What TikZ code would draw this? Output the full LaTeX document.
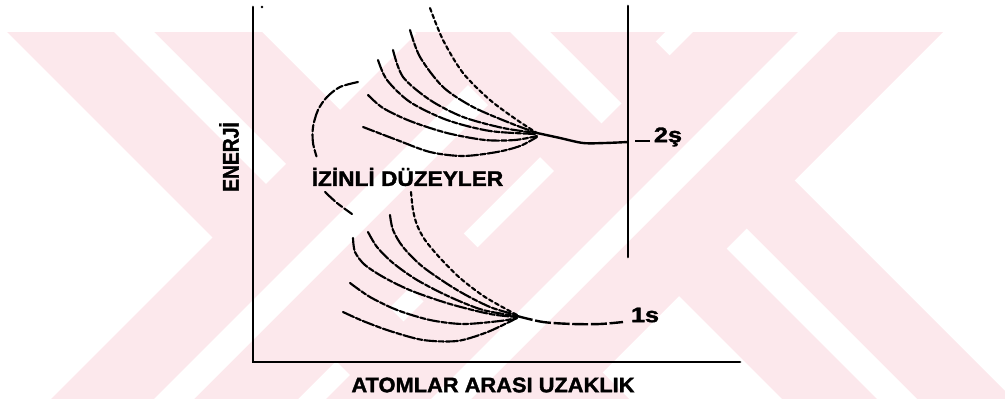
\documentclass[tikz,border=0pt]{standalone}
\usepackage{fontspec}
\setmainfont{Liberation Sans}
\newfontfamily\heavy[FakeBold=1.6]{Liberation Sans Bold}
\definecolor{wm}{RGB}{252,232,236}
\tikzset{
  axisline/.style={line width=2pt, line cap=round},
  crv/.style={line width=1.6pt, line cap=round, dash pattern=on 9pt off 1.6pt on 4pt off 1.6pt},
  dotcrv/.style={line width=1.6pt, line cap=round, dash pattern=on 3pt off 2.2pt},
  brk/.style={line width=1.6pt, line cap=round, dash pattern=on 10pt off 2pt on 5pt off 2pt},
  lbl/.style={font=\heavy\fontsize{15.75}{18}\selectfont, inner sep=0pt},
  wmfill/.style={fill=wm},
  wmgap/.style={fill=white}
}
\begin{document}
\begin{tikzpicture}[x=0.75pt,y=-0.75pt]
\useasboundingbox (0,0) rectangle (1005,399);
% watermark
\begin{scope}
\clip (0,33) rectangle (1005,399);
% left X
\path[wmfill] (-25,0) -- (230,0) -- (650,420) -- (395,420) -- cycle;
\path[wmgap] (82,0) -- (122,0) -- (542,420) -- (502,420) -- cycle;
\path[wmfill] (450,0) -- (697,0) -- (277,420) -- (30,420) -- cycle;
\path[wmgap] (553,0) -- (593,0) -- (173,420) -- (133,420) -- cycle;
% right X
\path[wmfill] (383,0) -- (614,0) -- (1034,420) -- (803,420) -- cycle;
\path[wmgap] (478,0) -- (518,0) -- (938,420) -- (898,420) -- cycle;
\path[wmfill] (725,0) -- (975,0) -- (555,420) -- (305,420) -- cycle;
\path[wmgap] (830,0) -- (870,0) -- (450,420) -- (410,420) -- cycle;
\end{scope}
% axes
\coordinate (ytop) at (253,7);
\coordinate (orig) at (253,362);
\coordinate (xend) at (740,362);
\coordinate (rtop) at (628,6);
\coordinate (rbot) at (628,257);
\draw[axisline] (ytop) -- (orig) -- (xend);
\draw[axisline] (rtop) -- (rbot);
\fill (262,7) circle (1.4);
% upper bundle
\coordinate (uc) at (537,133);
\draw[dotcrv] plot[smooth] coordinates {(430,8) (443,40) (463,73) (490,100) (517,120) (537,133)};
\draw[crv] plot[smooth] coordinates {(410,30) (420,57) (443,87) (473,107) (510,123) (537,133)};
\draw[crv] plot[smooth] coordinates {(393,50) (403,77) (430,100) (463,117) (503,128) (537,133)};
\draw[crv] plot[smooth] coordinates {(378,60) (387,80) (410,102) (447,120) (490,131) (537,134)};
\draw[crv] plot[smooth] coordinates {(368,95) (383,108) (410,121) (447,133) (485,140) (515,140) (537,136)};
\draw[crv] plot[smooth] coordinates {(363,127) (397,140) (430,152) (463,156) (497,152) (520,146) (537,137)};
\draw[line width=1.8pt] plot[smooth] coordinates {(537,133) (560,138) (583,143) (605,143) (628,142)};
\coordinate (d2a) at (635,141);
\coordinate (d2b) at (650,141);
\draw[line width=1.4pt] (d2a) -- (d2b);
\node[lbl] (l2s) at (668,137) {\scalebox{1.2}[1]{2ş}};
% bracket
\draw[brk] plot[smooth] coordinates {(358,82) (340,87) (327,97) (318,110) (313,127) (313,143) (317,158)};
\draw[brk] plot[smooth] coordinates {(325,192) (337,203) (352,214)};
\node[lbl] (izn) at (407.5,177) {\scalebox{1.08}[1]{İZİNLİ DÜZEYLER}};
% lower bundle
\draw[dotcrv] plot[smooth] coordinates {(411,192) (413,210) (417,225) (425,240) (440,258) (460,278) (485,297) (517,315)};
\draw[crv] plot[smooth] coordinates {(390,215) (393,230) (403,247) (423,267) (457,290) (490,307) (517,315)};
\draw[crv] plot[smooth] coordinates {(368,232) (377,247) (393,263) (417,280) (450,297) (483,310) (517,316)};
\draw[crv] plot[smooth] coordinates {(353,238) (355,252) (365,265) (385,278) (412,291) (450,304) (490,314) (517,317)};
\draw[crv] plot[smooth] coordinates {(350,283) (370,297) (397,310) (430,320) (463,324) (500,321) (517,318)};
\draw[crv] plot[smooth] coordinates {(343,312) (363,321) (390,331) (423,340) (457,341) (485,333) (505,324) (517,318)};
\draw[line width=1.8pt, dash pattern=on 12pt off 2pt] plot[smooth] coordinates {(517,316) (543,322) (573,324) (600,324) (623,322)};
\node[lbl] (l1s) at (645,315) {\scalebox{1.2}[1]{1s}};
% axis labels
\node[lbl, rotate=90, font=\heavy\fontsize{17}{19}\selectfont] (ener) at (229,157) {\scalebox{0.85}[1]{ENERJİ}};
\node[lbl] (atom) at (493,385) {\scalebox{1.04}[1]{ATOMLAR ARASI UZAKLIK}};
\end{tikzpicture}
\end{document}
